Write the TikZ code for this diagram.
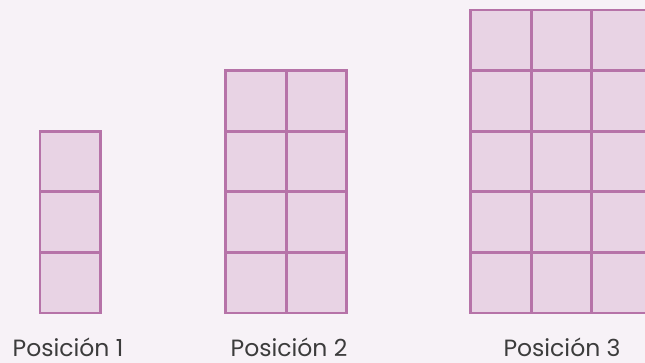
\documentclass[tikz,border=0pt]{standalone}
\usepackage{fontspec}
\setmainfont{Poppins}
\definecolor{pagebg}{HTML}{F7F2F7}
\definecolor{cellfill}{HTML}{E8D3E4}
\definecolor{cellline}{HTML}{B673A8}
\definecolor{captiongray}{HTML}{3C3C3C}
\tikzset{
  tile/.style={draw=cellline,fill=cellfill,line width=2.8pt},
  rule/.style={draw=cellline,line width=2.8pt},
  caption/.style={anchor=base,text=captiongray,font=\fontsize{23.5}{26}\selectfont,inner sep=0pt,text depth=0pt}
}
\begin{document}
\begin{tikzpicture}[x=1pt,y=-1pt]
  \path[use as bounding box,clip] (0,0) rectangle (645,363);
  \fill[pagebg] (0,0) rectangle (645,363);
  % position 1
  \filldraw[tile] (40,131.2) rectangle (100.6,313);
  \draw[rule] (40,191.8) -- (100.6,191.8);
  \draw[rule] (40,252.4) -- (100.6,252.4);
  % position 2
  \filldraw[tile] (225.5,70.6) rectangle (346.7,313);
  \draw[rule] (286.1,70.6) -- (286.1,313);
  \draw[rule] (225.5,131.2) -- (346.7,131.2);
  \draw[rule] (225.5,191.8) -- (346.7,191.8);
  \draw[rule] (225.5,252.4) -- (346.7,252.4);
  % position 3
  \filldraw[tile] (470.5,10) rectangle (652.3,313);
  \draw[rule] (531.1,10) -- (531.1,313);
  \draw[rule] (591.7,10) -- (591.7,313);
  \draw[rule] (470.5,70.6) -- (652.3,70.6);
  \draw[rule] (470.5,131.2) -- (652.3,131.2);
  \draw[rule] (470.5,191.8) -- (652.3,191.8);
  \draw[rule] (470.5,252.4) -- (652.3,252.4);
  \node[caption] (pos1) at (68,356.5) {Posición 1};
  \node[caption] (pos2) at (289,356.5) {Posición 2};
  \node[caption] (pos3) at (562,356.5) {Posición 3};
\end{tikzpicture}
\end{document}
